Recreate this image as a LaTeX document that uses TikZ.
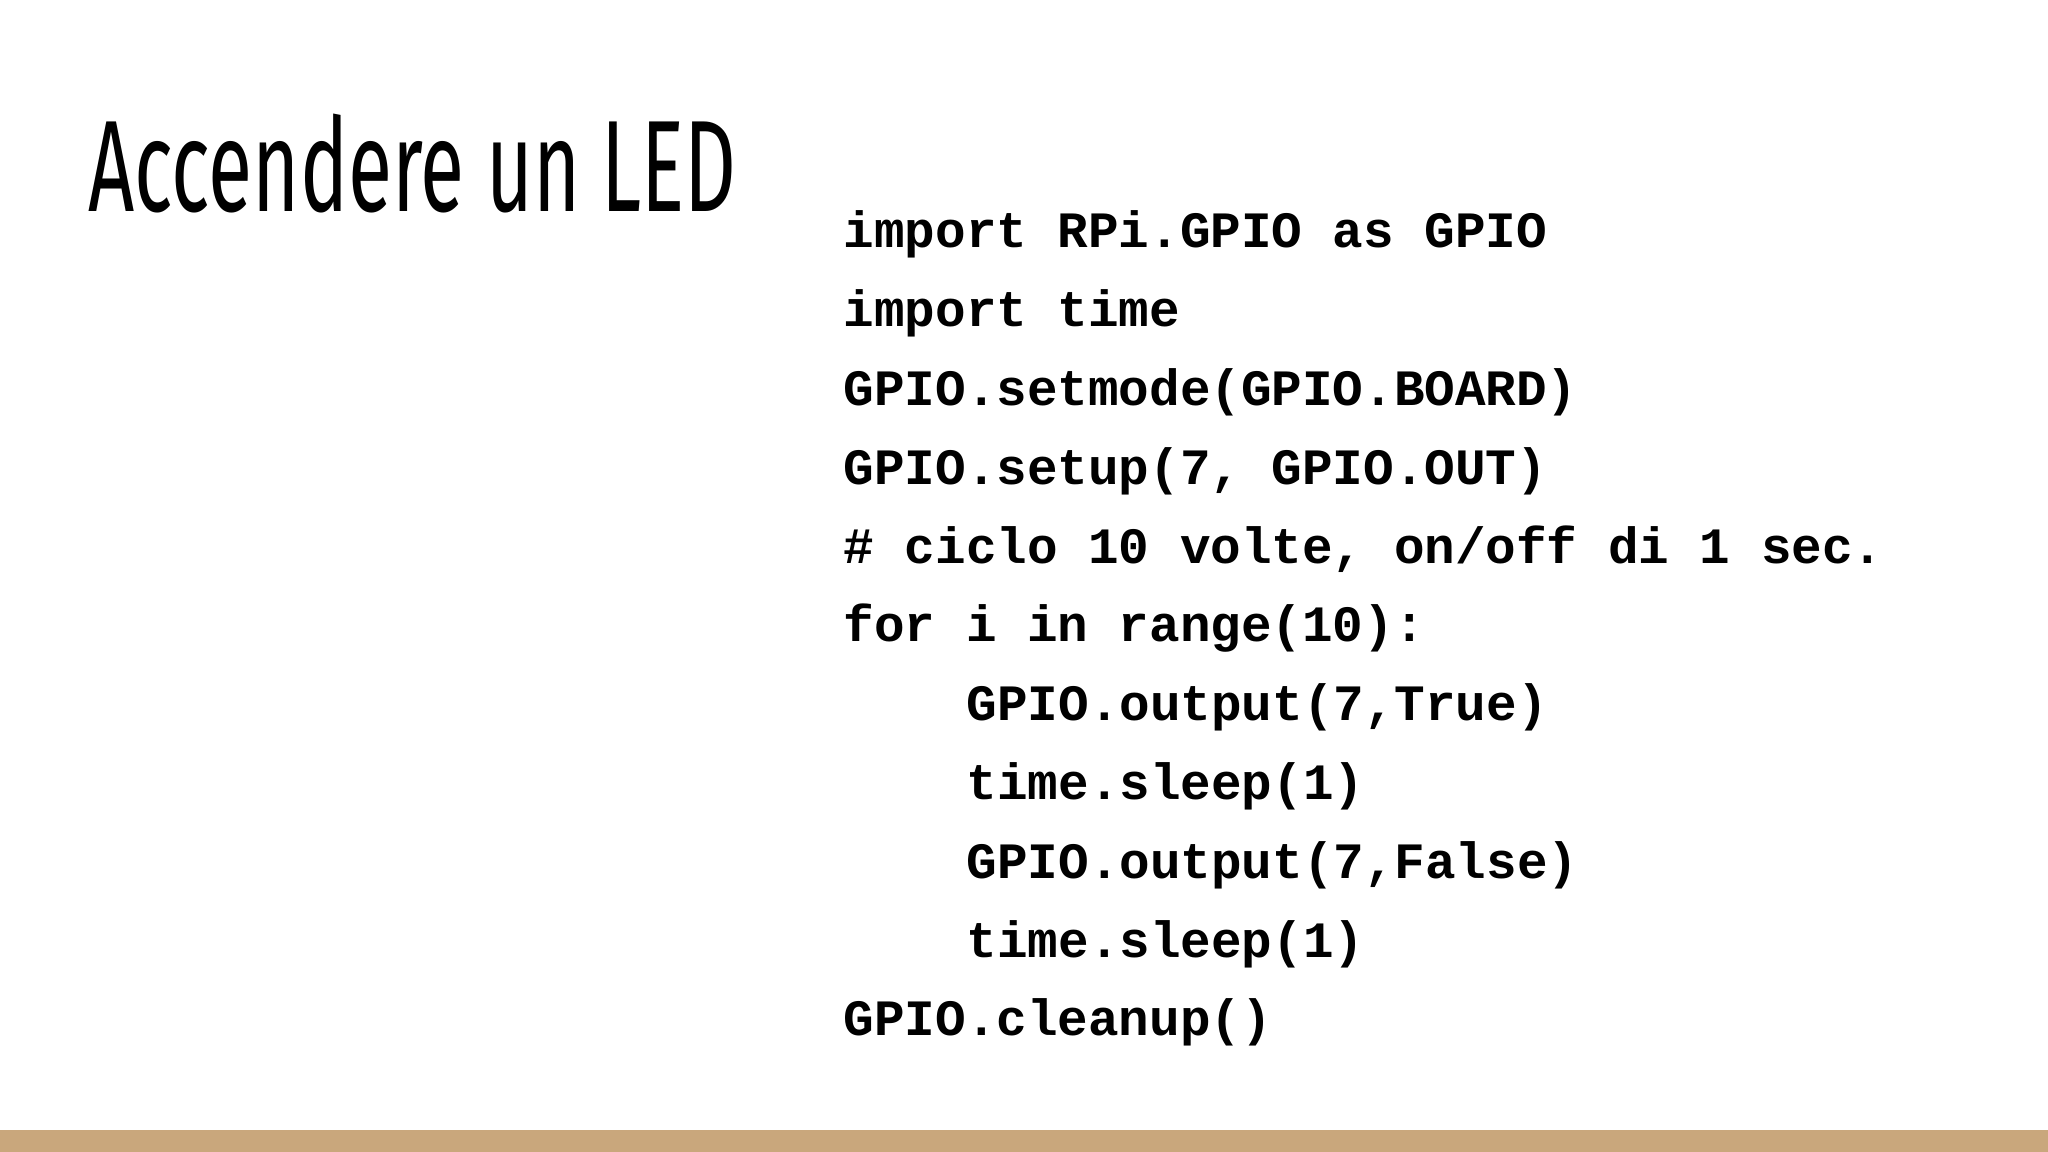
\documentclass[tikz,border=0pt]{standalone}
\usepackage{fontspec}
\setmonofont{Liberation Mono}
\newfontfamily\titlefont[FakeStretch=0.62]{Fira Sans}
\definecolor{bar}{HTML}{C9A77C}
\begin{document}
\begin{tikzpicture}[x=1cm,y=1cm,
  codeline/.style={anchor=base west,inner sep=0pt,font=\fontsize{14.5pt}{16pt}\ttfamily\bfseries}]
\useasboundingbox (0,0) rectangle (20.48,11.52);
\fill[white] (0,0) rectangle (20.48,11.52);
\fill[bar] (0,0) rectangle (20.48,0.22);
\node[anchor=base west,inner sep=0pt,font=\fontsize{37pt}{40pt}\titlefont] (title) at (0.88,9.40) {Accendere un LED};
\def\L{8.43}\def\I{9.66}
\node[codeline] (c1) at (\L,9.04) {import RPi.GPIO as GPIO};
\node[codeline] (c2) at (\L,8.252) {import time};
\node[codeline] (c3) at (\L,7.464) {GPIO.setmode(GPIO.BOARD)};
\node[codeline] (c4) at (\L,6.676) {GPIO.setup(7, GPIO.OUT)};
\node[codeline] (c5) at (\L,5.888) {\# ciclo 10 volte, on/off di 1 sec.};
\node[codeline] (c6) at (\L,5.100) {for i in range(10):};
\node[codeline] (c7) at (\I,4.312) {GPIO.output(7,True)};
\node[codeline] (c8) at (\I,3.524) {time.sleep(1)};
\node[codeline] (c9) at (\I,2.736) {GPIO.output(7,False)};
\node[codeline] (c10) at (\I,1.948) {time.sleep(1)};
\node[codeline] (c11) at (\L,1.160) {GPIO.cleanup()};
\end{tikzpicture}
\end{document}
